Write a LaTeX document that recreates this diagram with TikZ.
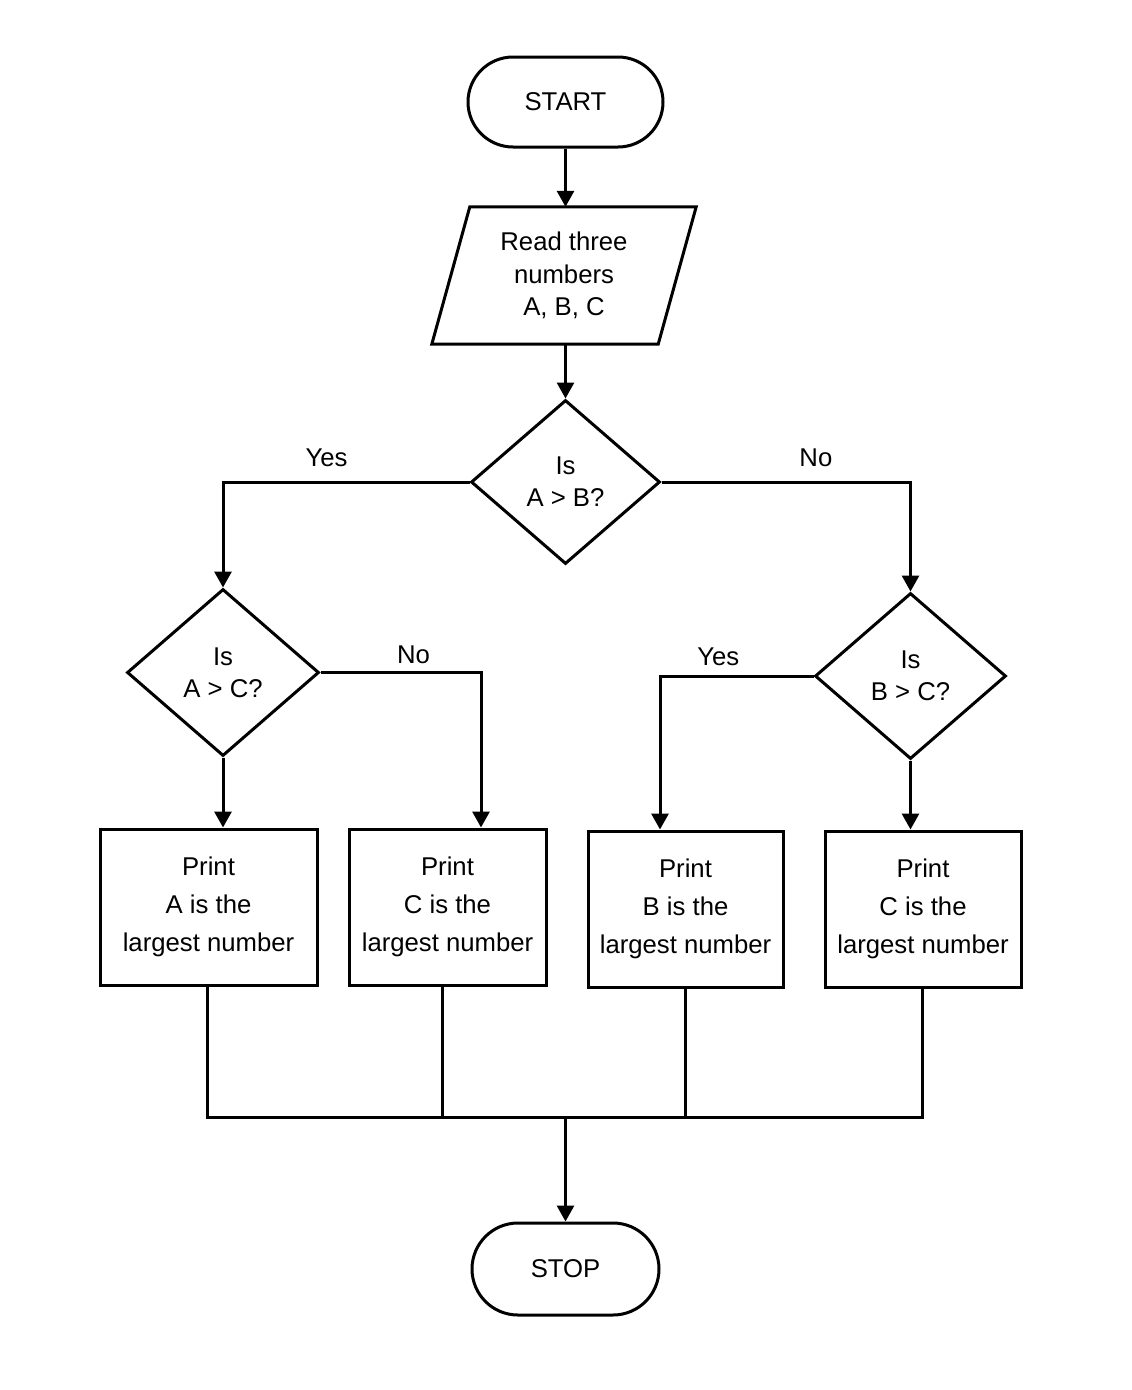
\documentclass[tikz,border=0pt]{standalone}
\usepackage{fontspec}
\setmainfont{Liberation Sans}
\usetikzlibrary{shapes.geometric,shapes.misc,arrows.meta}
\begin{document}
\begin{tikzpicture}[x=1pt,y=-1pt,
  ln/.style={line width=3pt},
  arr/.style={line width=3pt,-{Triangle[length=16pt,width=17pt]}},
  term/.style={rounded rectangle,draw,line width=3pt,inner sep=0pt,font=\fontsize{25.7}{32}\selectfont},
  iobox/.style={rectangle,inner sep=0pt,minimum width=226pt,minimum height=137pt,align=center,font=\fontsize{25.7}{32.5}\selectfont},
  decision/.style={diamond,draw,line width=3pt,inner sep=0pt,align=center,font=\fontsize{25.7}{32}\selectfont},
  procbox/.style={rectangle,draw,line width=3pt,inner sep=0pt,minimum height=156pt,align=center,font=\fontsize{25.7}{38}\selectfont},
  lbl/.style={inner sep=0pt,font=\fontsize{25.7}{30}\selectfont}
]
\fill[white] (0,0) rectangle (1132,1390);
\useasboundingbox (0,0) rectangle (1132,1390);

\node[term,minimum width=195pt,minimum height=90pt] (start) at (565.5,102) {START};
\node[iobox] (read) at (564,275.5) {Read three\\numbers\\A, B, C};
\draw[ln,line join=miter] ([xshift=19pt]read.north west) -- ([xshift=19pt]read.north east)
  -- ([xshift=-19pt]read.south east) -- ([xshift=-19pt]read.south west) -- cycle;

\node[decision,minimum width=189pt,minimum height=164pt] (d1) at (565.5,482) {Is\\A > B?};
\node[decision,minimum width=192pt,minimum height=167pt] (d2) at (223,672.5) {Is\\A > C?};
\node[decision,minimum width=191pt,minimum height=166pt] (d3) at (910.5,676) {Is\\B > C?};

\node[procbox,minimum width=217pt] (b1) at (208.5,907) {Print\\A is the\\largest number};
\node[procbox,minimum width=197pt] (b2) at (447.5,907) {Print\\C is the\\largest number};
\node[procbox,minimum width=195pt] (b3) at (685.5,909) {Print\\B is the\\largest number};
\node[procbox,minimum width=196pt] (b4) at (923,909) {Print\\C is the\\largest number};

\node[term,minimum width=187pt,minimum height=92pt] (stop) at (565.5,1269) {STOP};

\coordinate (join) at (565.5,1117);

\draw[arr] (start.south) -- (start.south |- read.north);
\draw[arr] (d1.north |- read.south) -- (d1.north);
\draw[arr] (d1.west) -| node[lbl,pos=0.29,above=14pt] {Yes} (d2.north);
\draw[arr] (d1.east) -| node[lbl,pos=0.31,above=14pt] {No} (d3.north);
\draw[arr] (d2.south) -- (d2.south |- b1.north);
\draw[arr] (d2.east) -| node[lbl,pos=0.29,above=7pt] {No} ([xshift=33.5pt]b2.north);
\draw[arr] (d3.west) -| node[lbl,pos=0.31,above=9pt] {Yes} ([xshift=-25.5pt]b3.north);
\draw[arr] (d3.south) -- (d3.south |- b4.north);

\draw[ln,line join=miter] ([xshift=-1.5pt]b1.south) -- ([xshift=-1.5pt]b1.south |- join) -- ([xshift=-1pt]b4.south |- join) -- ([xshift=-1pt]b4.south);
\draw[ln] ([xshift=-5.5pt]b2.south) -- ([xshift=-5.5pt]b2.south |- join);
\draw[ln] (b3.south) -- (b3.south |- join);
\draw[arr] (join) -- (join |- stop.north);
\end{tikzpicture}
\end{document}
